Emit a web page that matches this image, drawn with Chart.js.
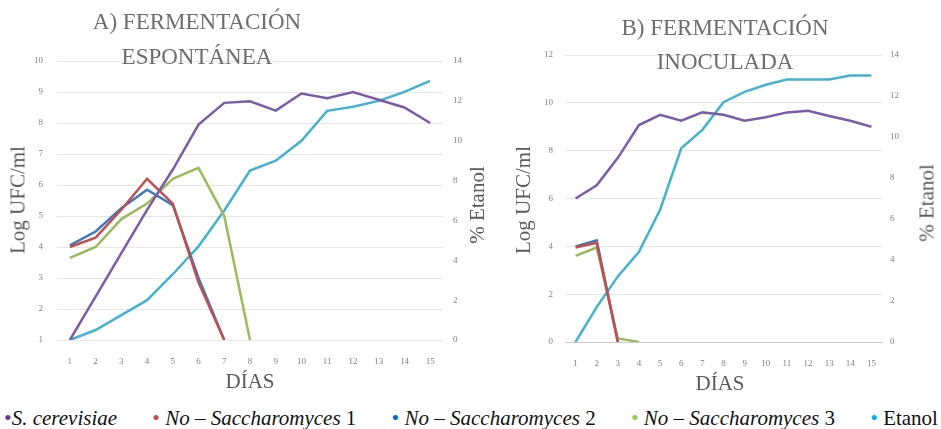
<!DOCTYPE html>
<html>
<head>
<meta charset="utf-8">
<script src="https://cdn.jsdelivr.net/npm/chart.js@4.4.1/dist/chart.umd.min.js"></script>
<style>
  body { margin: 0; background: #fff; }
  #wrap { position: relative; width: 941px; height: 429px; overflow: hidden; font-family: "Liberation Serif", "Times New Roman", Tinos, "DejaVu Serif", serif; }
  canvas { position: absolute; top: 0; }
  .t { position: absolute; color: #6e6e6e; font-size: 23px; white-space: nowrap; transform: translate(-50%, -50%); }
  .ax { position: absolute; color: #5a5a5a; font-size: 21px; white-space: nowrap; transform: translate(-50%, -50%); }
  .rot { transform: translate(-50%, -50%) rotate(-90deg); }
  #legend { position: absolute; left: 4px; right: 3px; top: 405px; display: flex; justify-content: space-between; font-size: 21px; color: #111; white-space: nowrap; }
  #legend i { font-style: italic; }
  .dot { font-size: 22px; }
</style>
</head>
<body>
<div id="wrap">
  <canvas id="chartA" width="490" height="400" style="left:0"></canvas>
  <canvas id="chartB" width="451" height="400" style="left:490px"></canvas>

  <div class="t" style="left:197px;top:22px">A) FERMENTACIÓN</div>
  <div class="t" style="left:197px;top:57px">ESPONTÁNEA</div>
  <div class="t" style="left:725px;top:28px">B) FERMENTACIÓN</div>
  <div class="t" style="left:725px;top:62px">INOCULADA</div>

  <div class="ax rot" style="left:18px;top:200px">Log UFC/ml</div>
  <div class="ax rot" style="left:477px;top:205px">% Etanol</div>
  <div class="ax rot" style="left:523px;top:200px">Log UFC/ml</div>
  <div class="ax rot" style="left:927px;top:203px">% Etanol</div>
  <div class="ax" style="left:250px;top:381px">DÍAS</div>
  <div class="ax" style="left:720px;top:383px">DÍAS</div>

  <div id="legend">
    <span><span class="dot" style="color:#7030a0">•</span><i>S. cerevisiae</i></span>
    <span><span class="dot" style="color:#c0504d">•</span> <i>No – Saccharomyces</i> 1</span>
    <span><span class="dot" style="color:#0070c0">•</span> <i>No – Saccharomyces</i> 2</span>
    <span><span class="dot" style="color:#92d050">•</span> <i>No – Saccharomyces</i> 3</span>
    <span><span class="dot" style="color:#00b0f0">•</span> Etanol</span>
  </div>
</div>

<script>
// days on the x axis
const days = ["1", "2", "3", "4", "5", "6", "7", "8", "9", "10", "11", "12", "13", "14", "15"];

// A) fermentacion espontanea (Log UFC/ml, etanol in %)
const aCerevisiae = [1.0, 2.4, 3.8, 5.2, 6.5, 7.95, 8.65, 8.7, 8.4, 8.95, 8.8, 9.0, 8.75, 8.5, 8.0];
const aNoSac1 = [4.0, 4.3, 5.2, 6.2, 5.4, 2.85, 1.0, null, null, null, null, null, null, null, null];
const aNoSac2 = [4.05, 4.5, 5.25, 5.85, 5.35, 3.0, 1.0, null, null, null, null, null, null, null, null];
const aNoSac3 = [3.65, 4.0, 4.9, 5.4, 6.2, 6.55, 5.0, 1.0, null, null, null, null, null, null, null];
const aEtanol = [0, 0.5, 1.25, 2.0, 3.3, 4.7, 6.5, 8.5, 9.0, 10.0, 11.5, 11.7, 12.0, 12.45, 13.0];

// B) fermentacion inoculada
const bCerevisiae = [6.0, 6.55, 7.7, 9.07, 9.5, 9.25, 9.6, 9.5, 9.25, 9.4, 9.6, 9.67, 9.45, 9.25, 9.0];
const bNoSac1 = [3.95, 4.15, 0, null, null, null, null, null, null, null, null, null, null, null, null];
const bNoSac2 = [4.0, 4.25, 0, null, null, null, null, null, null, null, null, null, null, null, null];
const bNoSac3 = [3.6, 3.95, 0.15, 0, null, null, null, null, null, null, null, null, null, null, null];
const bEtanol = [0, 1.7, 3.2, 4.4, 6.45, 9.45, 10.35, 11.7, 12.2, 12.55, 12.8, 12.8, 12.8, 13.0, 13.0];

const colors = {
  cerevisiae: "#7a5ca8",
  noSac1: "#c0504d",
  noSac2: "#3f78bf",
  noSac3: "#9bbb59",
  etanol: "#45b2cf"
};

const tickFont = { family: "'Liberation Serif', 'Times New Roman', 'DejaVu Serif', serif", size: 9 };

function line(data, color, axis) {
  return {
    data: data,
    borderColor: color,
    backgroundColor: color,
    borderWidth: 2.5,
    pointRadius: 0,
    tension: 0,
    yAxisID: axis
  };
}

function makeChart(id, sets, opt) {
  return new Chart(document.getElementById(id), {
    type: "line",
    data: {
      labels: days,
      datasets: [
        line(sets[0], colors.cerevisiae, "yL"),
        line(sets[1], colors.noSac1, "yL"),
        line(sets[2], colors.noSac2, "yL"),
        line(sets[3], colors.noSac3, "yL"),
        line(sets[4], colors.etanol, "yR")
      ]
    },
    options: {
      responsive: false,
      animation: false,
      devicePixelRatio: 1,
      layout: { padding: { top: opt.top, left: 0, right: 0, bottom: 0 } },
      plugins: { legend: { display: false }, tooltip: { enabled: false } },
      scales: {
        x: {
          offset: true,
          grid: { display: false },
          border: opt.xBorder,
          ticks: { color: "#808080", font: tickFont, padding: 8, maxRotation: 0, autoSkip: false },
          afterFit: s => { s.height = opt.xHeight; }
        },
        yL: {
          position: "left",
          min: opt.lMin,
          max: opt.lMax,
          ticks: { stepSize: opt.lStep, color: "#808080", font: tickFont, padding: opt.lPad },
          grid: { color: "#e6e6e6", lineWidth: 1, drawTicks: false },
          border: { display: false },
          afterFit: s => { s.width = opt.lWidth; }
        },
        yR: {
          position: "right",
          min: 0,
          max: 14,
          ticks: { stepSize: 2, color: "#808080", font: tickFont, padding: opt.rPad },
          grid: { display: false, drawTicks: false },
          border: { display: false },
          afterFit: s => { s.width = opt.rWidth; }
        }
      }
    }
  });
}

makeChart("chartA", [aCerevisiae, aNoSac1, aNoSac2, aNoSac3, aEtanol], {
  top: 61, xHeight: 60, lMin: 1, lMax: 10, lStep: 1,
  lWidth: 57, lPad: 14, rWidth: 47, rPad: 10,
  xBorder: { display: false }
});

makeChart("chartB", [bCerevisiae, bNoSac1, bNoSac2, bNoSac3, bEtanol], {
  top: 55, xHeight: 58, lMin: 0, lMax: 12, lStep: 2,
  lWidth: 75, lPad: 12, rWidth: 59, rPad: 8,
  xBorder: { display: true, color: "#c8c8c8", dash: [2, 2] }
});
</script>
</body>
</html>
